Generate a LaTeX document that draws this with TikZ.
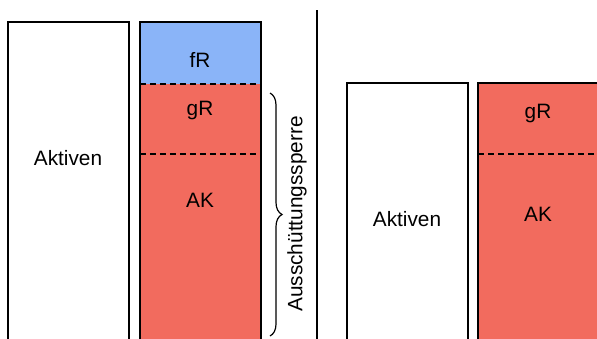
\documentclass[tikz,border=0pt]{standalone}
\usepackage{fontspec}
\setmainfont{Liberation Sans}
\usetikzlibrary{decorations.pathreplacing}
\definecolor{frblue}{RGB}{138,180,248}
\definecolor{ekred}{RGB}{242,107,94}
\tikzstyle{every node}=[font=\fontsize{10.4}{12}\selectfont]
\tikzstyle{bar} = [draw, line width=0.8pt]
\tikzstyle{split} = [draw, line width=0.7pt, dash pattern=on 3pt off 2pt]

\begin{document}
\begin{tikzpicture}[x=0.5pt, y=-0.5pt]
    \useasboundingbox (0,0) rectangle (597,338);
    \clip (0,0) rectangle (597,338);
    % Bilanz vorher
    \draw [bar] (8,22) rectangle (129,360);
    \fill [frblue] (140,22) rectangle (261,84);
    \fill [ekred] (140,84) rectangle (261,360);
    \draw [bar] (140,22) rectangle (261,360);
    \path [split] (140,84) -- (261,84);
    \path [split] (140,154) -- (261,154);
    \node (akt1) at (68,158) {Aktiven};
    \node (fr) at (200,60) {fR};
    \node (gr1) at (200,110) {gR};
    \node (ak1) at (200,200) {AK};
    % Klammer
    \coordinate (bt) at (270,93);
    \coordinate (bb) at (270,336);
    \draw [line width=0.6pt, decorate, decoration={brace, amplitude=6pt}] (bt) -- (bb);
    \node [rotate=90] (sperre) at (297,214) {Ausschüttungssperre};
    % Trennlinie
    \draw [line width=0.8pt] (317,10) -- (317,360);
    % Bilanz nachher
    \draw [bar] (347,83) rectangle (468,360);
    \fill [ekred] (478,83) rectangle (620,360);
    \draw [bar] (478,83) rectangle (620,360);
    \path [split] (478,154) -- (620,154);
    \node (akt2) at (407,219) {Aktiven};
    \node (gr2) at (538,113) {gR};
    \node (ak2) at (538,214) {AK};
\end{tikzpicture}
\end{document}
